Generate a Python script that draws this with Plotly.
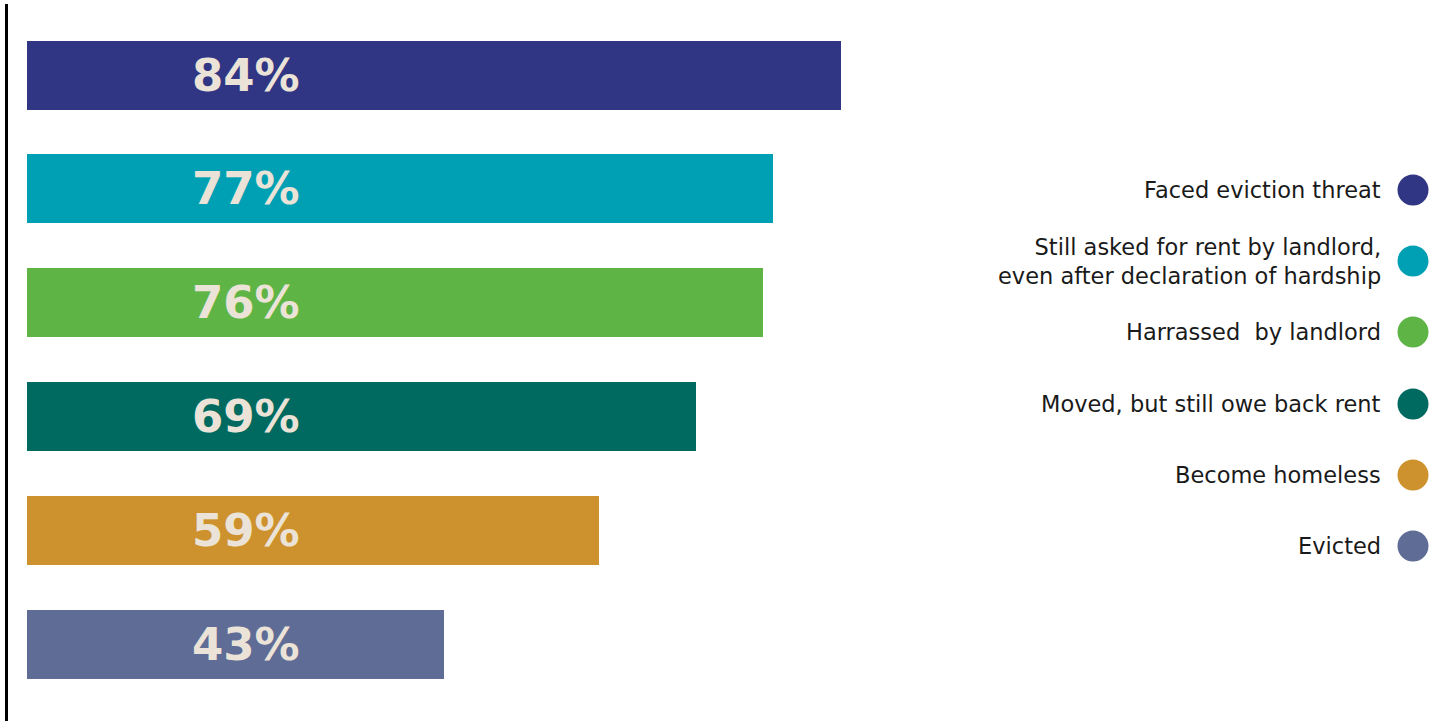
import plotly.graph_objects as go

categories = [
    "Faced eviction threat",
    "Still asked for rent by landlord,<br>even after declaration of hardship",
    "Harrassed  by landlord",
    "Moved, but still owe back rent",
    "Become homeless",
    "Evicted",
]
values = [84, 77, 76, 69, 59, 43]
colors = ["#303584", "#00a0b4", "#5fb446", "#006a60", "#cd922e", "#5f6c96"]
legend_y_px = [190, 261, 332, 404, 475, 546]

W, H = 1441, 721
LEG_FONT = "DejaVu Sans, Montserrat, sans-serif"
LAB_FONT = "DejaVu Sans, Montserrat, sans-serif"

px_per_unit = (841 - 27) / 84.0
xmin = -27 / px_per_unit
xmax = xmin + W / px_per_unit
step = 113.8

ypos = list(range(len(values)))

fig = go.Figure()
fig.add_trace(go.Bar(
    x=values, y=ypos, orientation="h",
    marker=dict(color=colors, line=dict(width=0)),
    width=69 / step,
    hoverinfo="skip", showlegend=False,
))

annotations = []
for i, v in enumerate(values):
    annotations.append(dict(
        x=22.6, y=i, xref="x", yref="y", text=f"<b>{v}%</b>",
        showarrow=False, xanchor="center", yanchor="middle",
        font=dict(family=LAB_FONT, size=45, color="#ebe3d7"),
    ))

shapes = [dict(type="line", xref="paper", yref="paper",
               x0=6.5 / W, x1=6.5 / W, y0=1 - 4 / H, y1=-0.01,
               line=dict(color="#000000", width=3))]

r = 15.5
cx = 1413
for lab, col, ly in zip(categories, colors, legend_y_px):
    annotations.append(dict(
        x=1383 / W, y=1 - ly / H, xref="paper", yref="paper", text=lab,
        showarrow=False, xanchor="right", yanchor="middle", align="right",
        font=dict(family=LEG_FONT, size=22.5, color="#1a1a1a"),
    ))
    shapes.append(dict(type="circle", xref="paper", yref="paper",
                       x0=(cx - r) / W, x1=(cx + r) / W,
                       y0=1 - (ly + r) / H, y1=1 - (ly - r) / H,
                       fillcolor=col, line=dict(width=0)))

fig.update_layout(
    width=W, height=H,
    margin=dict(l=0, r=0, t=0, b=0),
    paper_bgcolor="white", plot_bgcolor="white",
    xaxis=dict(range=[xmin, xmax], visible=False, fixedrange=True),
    yaxis=dict(range=[(H - 75) / step, -75 / step], visible=False, fixedrange=True),
    annotations=annotations, shapes=shapes,
    bargap=0,
)

fig.write_html("out.html", config={"displayModeBar": False})
